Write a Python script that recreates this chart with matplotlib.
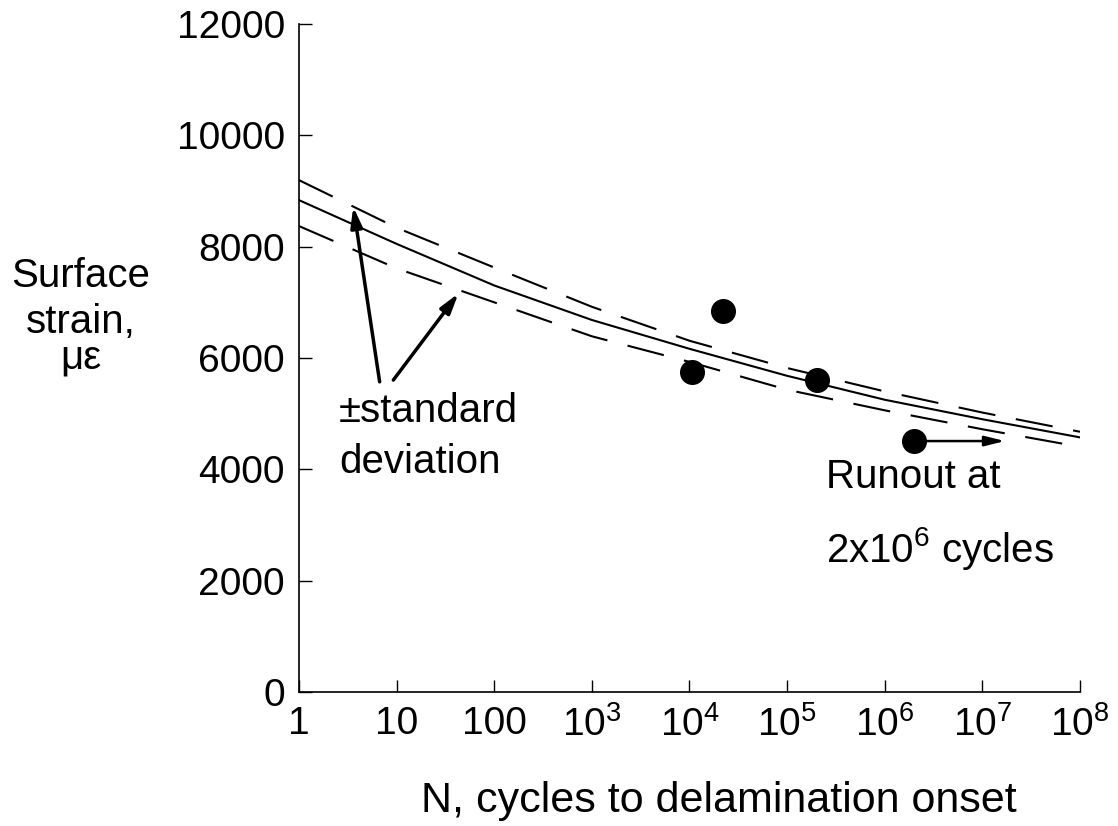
import matplotlib
matplotlib.use('Agg')
import matplotlib.pyplot as plt
import numpy as np

plt.rcParams['font.family'] = ['Liberation Sans', 'DejaVu Sans']
plt.rcParams['mathtext.fontset'] = 'custom'
plt.rcParams['mathtext.rm'] = 'Liberation Sans'
plt.rcParams['mathtext.it'] = 'Liberation Sans:italic'
plt.rcParams['mathtext.bf'] = 'Liberation Sans:bold'

# Fitted curve and +/- standard deviation bands (read at each decade)
cycles = [1, 1e1, 1e2, 1e3, 1e4, 1e5, 1e6, 1e7, 1e8]
strain_fit = [8836, 8050, 7303, 6683, 6165, 5680, 5250, 4900, 4574]
strain_upper = [9195, 8340, 7625, 6920, 6310, 5820, 5400, 5020, 4675]
strain_lower = [8370, 7610, 7000, 6390, 5930, 5430, 5060, 4720, 4405]

# Test data
test_cycles = [1.05e4, 2.2e4, 2.0e5, 2.0e6]
test_strain = [5752, 6843, 5604, 4508]
runout_end = 1.7e7

xtick_vals = [1, 1e1, 1e2, 1e3, 1e4, 1e5, 1e6, 1e7, 1e8]
xtick_labels = ['1', '10', '100', r'$10^3$', r'$10^4$', r'$10^5$', r'$10^6$', r'$10^7$', r'$10^8$']
ytick_vals = [0, 2000, 4000, 6000, 8000, 10000, 12000]

W, H = 1118, 826
fig = plt.figure(figsize=(W / 100, H / 100), dpi=100)
ax = fig.add_axes([299 / W, 1 - 692 / H, (1080 - 299) / W, (692 - 24) / H])

ax.plot(cycles, strain_fit, color='black', lw=1.5)
dash = (0, (18, 10))
ax.plot(cycles, strain_upper, color='black', lw=1.5, linestyle=dash)
ax.plot(cycles, strain_lower, color='black', lw=1.5, linestyle=dash)
ax.plot(test_cycles, test_strain, 'o', color='black', markersize=17)

ax.set_xscale('log')
ax.set_xlim(1, 1e8)
ax.set_ylim(0, 12000)
ax.set_xticks(xtick_vals)
ax.set_xticklabels(xtick_labels)
ax.minorticks_off()
ax.set_yticks(ytick_vals)
ax.set_yticklabels([str(v) for v in ytick_vals])
ax.tick_params(direction='in', length=9, width=1, labelsize=28, pad=10)
ax.spines['top'].set_visible(False)
ax.spines['right'].set_visible(False)
for s in ['left', 'bottom']:
    ax.spines[s].set_linewidth(1.2)

# +/- standard deviation arrows
arrow_kw = dict(arrowstyle='-|>,head_length=1.2,head_width=0.35', color='black', lw=2.5,
                shrinkA=0, shrinkB=0)
ax.annotate('', xy=(3.6, 8716), xytext=(6.7, 5572), arrowprops=arrow_kw)
ax.annotate('', xy=(43, 7160), xytext=(9.25, 5604), arrowprops=arrow_kw)
ax.text(2.57, 4849, '\u00b1standard', fontsize=29, ha='left', va='baseline')
ax.text(2.57, 3933, 'deviation', fontsize=29, ha='left', va='baseline')

# runout
ax.annotate('', xy=(runout_end, test_strain[3]), xytext=(test_cycles[3], test_strain[3]),
            arrowprops=dict(arrowstyle='-|>,head_length=1.2,head_width=0.3', color='black',
                            lw=1.8, shrinkA=0, shrinkB=0))
ax.text(2.5e5, 3664, 'Runout at', fontsize=29, ha='left', va='baseline')
ax.text(2.5e5, 2335, r'2x10$^{\mathregular{6}}$ cycles', fontsize=29, ha='left', va='baseline')

# axis titles
for label, base in [('Surface', 287), ('strain,', 333), ('\u03bc\u03b5', 368)]:
    fig.text(81 / W, 1 - base / H, label, fontsize=29, ha='center', va='baseline')
fig.text(719 / W, 1 - 812 / H, 'N, cycles to delamination onset', fontsize=31,
         ha='center', va='baseline')

fig.savefig('out.png', dpi=100, facecolor='white')
